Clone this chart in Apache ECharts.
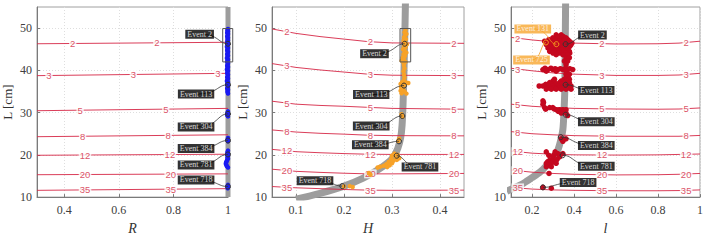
<!DOCTYPE html>
<html><head><meta charset="utf-8">
<script src="https://cdn.jsdelivr.net/npm/echarts@6/dist/echarts.min.js"></script>
<style>html,body{margin:0;padding:0;background:#fff}#c{width:706px;height:240px}</style>
</head><body><div id="c"></div>
<script>
// ---------------- data ----------------
const yTickVals = [10, 20, 30, 40, 50];
const levelNames = ['2', '3', '5', '8', '12', '20', '35'];

const xTicksR = [0.4, 0.6, 0.8, 1];
const xTicksH = [0.1, 0.2, 0.3, 0.4];
const xTicksL = [0.2, 0.4, 0.6, 0.8, 1];

// contour lines (L in cm) for each level, sampled at the listed x values
const contourR_x = [0.3, 1.0];
const contourR_L = [
  [46.3, 46.65], [38.75, 39.3], [30.45, 31.0], [24.3, 24.75],
  [19.9, 20.15], [15.3, 15.5], [11.6, 12.0]
];
const contourR_labelX = [[0.431, 0.739], [0.344, 0.653, 0.963], [0.458, 0.772], [0.467, 0.781], [0.476, 0.787], [0.476, 0.79], [0.476, 0.79]];

const contourH_x = [0.05, 0.1, 0.15, 0.2, 0.25, 0.3, 0.45];
const contourH_L = [
  [49.8, 48.75, 48.0, 47.4, 46.8, 46.5, 46.4],
  [41.6, 40.7, 40.1, 39.6, 39.1, 38.85, 38.75],
  [32.7, 32.0, 31.7, 31.5, 31.25, 31.0, 30.8],
  [25.9, 25.4, 25.1, 24.9, 24.65, 24.55, 24.5],
  [21.3, 20.75, 20.5, 20.3, 20.15, 20.1, 20.1],
  [16.6, 16.1, 15.85, 15.65, 15.5, 15.5, 15.6],
  [12.5, 12.2, 12.0, 11.8, 11.65, 11.6, 11.65]
];
const contourH_labelX = [0.081, 0.255, 0.429];

const contourL_x = [0.1, 0.2, 0.3, 0.4, 0.6, 0.8, 0.9, 1.0];
const contourL_L = [
  [47.8, 47.2, 46.75, 46.45, 46.25, 46.3, 46.45, 46.9],
  [40.5, 39.9, 39.4, 39.1, 38.8, 38.8, 38.9, 39.3],
  [32.0, 31.5, 31.2, 31.0, 30.85, 30.8, 30.85, 31.1],
  [25.5, 25.0, 24.75, 24.55, 24.4, 24.4, 24.4, 24.6],
  [20.9, 20.4, 20.15, 20.0, 19.95, 20.0, 20.1, 20.2],
  [16.4, 15.9, 15.6, 15.4, 15.25, 15.3, 15.4, 15.6],
  [12.3, 11.9, 11.7, 11.6, 11.5, 11.5, 11.55, 11.7]
];
const contourL_labelX = [0.132, 0.533, 0.934];

// grey reference curves
const curveR = [[1, 10], [1, 55]];
const curveH = [[0.10, 9.5], [0.15, 10.9], [0.2, 12.6], [0.24, 14.5], [0.27, 16.4], [0.29, 18.0], [0.303, 19.5], [0.312, 21.5], [0.318, 24], [0.321, 27], [0.323, 32], [0.325, 40], [0.327, 50], [0.328, 56]];
const curveL = [[0.08, 11.4], [0.12, 12.3], [0.16, 13.3], [0.2, 14.6], [0.24, 16.0], [0.27, 17.5], [0.3, 19.2], [0.322, 21], [0.337, 23.5], [0.347, 26], [0.352, 30], [0.356, 35], [0.358, 45], [0.36, 56]];

// measured points
const pointsR = [
  [1.0,49.8],[0.998,49.5],[1.0,49.2],[0.997,48.9],[1.0,48.6],[0.999,48.3],[0.997,48.0],[1.0,47.7],[0.998,47.4],[1.0,47.1],
  [0.997,46.8],[0.999,46.5],[1.0,46.2],[0.998,45.9],[0.996,45.6],[1.0,45.3],[0.998,45.0],[0.997,44.7],[1.0,44.4],[0.999,44.1],
  [0.997,43.8],[1.0,43.5],[0.998,43.2],[0.996,42.9],[1.0,42.6],[0.998,42.3],[0.997,42.0],[1.0,41.7],[0.999,41.4],[0.997,41.1],
  [1.0,40.8],[0.998,40.5],[0.996,40.2],[1.0,39.9],[0.998,39.6],[0.997,39.3],[1.0,39.0],[0.999,38.7],[0.997,38.4],[1.0,38.1],
  [0.998,37.8],[0.996,37.5],[1.0,37.2],[0.998,36.9],[0.997,36.6],[1.0,36.3],[0.999,36.0],[0.997,35.7],[1.0,35.4],[0.998,35.1],
  [0.999,34.8],[1.0,34.5],
  [1.0,30.3],[0.998,30.0],[1.0,29.7],[0.997,29.4],[1.0,29.1],
  [1.0,24.0],[0.998,23.6],[1.0,23.2],
  [1.0,21.0],[0.998,20.6],[1.0,20.3],[0.997,20.0],[1.0,19.7],[0.998,19.4],[1.0,19.1],[0.997,18.8],[0.995,18.5],[0.993,18.2],
  [0.992,17.9],[0.994,17.6],[0.996,17.3],[1.0,17.0],
  [1.0,12.9],[0.998,12.6],[1.0,12.3],[0.999,12.1]
];
const pointsH = [
  [0.328,49.5],[0.326,49.0],[0.330,48.6],[0.327,48.2],[0.325,47.8],[0.329,47.4],[0.324,47.0],[0.327,46.6],[0.331,46.2],[0.325,45.8],
  [0.328,45.4],[0.323,45.0],[0.326,44.6],[0.330,44.2],[0.324,43.8],[0.327,43.4],[0.322,43.0],[0.325,42.6],[0.320,42.3],[0.328,42.0],
  [0.324,41.8],[0.325,41.2],[0.326,40.5],[0.324,39.8],[0.325,39.0],[0.326,38.3],[0.325,37.6],
  [0.321,37.2],[0.330,37.1],[0.334,37.0],[0.318,36.8],[0.325,36.5],[0.319,36.0],[0.323,35.6],[0.318,35.2],[0.326,35.0],[0.320,34.6],[0.330,34.5],
  [0.320,29.6],[0.322,29.0],
  [0.315,23.8],[0.313,23.3],
  [0.305,20.3],[0.312,20.0],[0.300,19.8],[0.308,19.5],[0.315,19.2],[0.298,19.0],[0.303,18.6],[0.293,18.3],[0.300,18.0],[0.288,17.8],
  [0.295,17.5],[0.282,17.4],[0.275,17.2],[0.290,17.1],[0.270,17.0],[0.310,18.8],
  [0.252,15.7],[0.255,15.3],
  [0.200,12.5],[0.212,12.6],[0.218,12.4]
];
const pointsL = [
  [0.315,48.4],[0.339,48.4],[0.327,48.0],[0.350,48.0],
  [0.299,47.7],[0.323,47.7],[0.347,47.7],[0.362,47.7],
  [0.280,47.3],[0.310,47.3],[0.335,47.3],[0.355,47.3],[0.370,47.3],
  [0.260,46.9],[0.284,46.9],[0.307,46.9],[0.331,46.9],[0.354,46.9],[0.378,46.9],
  [0.270,46.5],[0.295,46.5],[0.320,46.5],[0.345,46.5],[0.370,46.5],[0.390,46.5],
  [0.268,46.1],[0.292,46.1],[0.315,46.1],[0.339,46.1],[0.362,46.1],[0.386,46.1],
  [0.285,45.7],[0.310,45.7],[0.335,45.7],[0.360,45.7],[0.380,45.7],
  [0.276,45.3],[0.299,45.3],[0.323,45.3],[0.347,45.3],[0.370,45.3],
  [0.290,44.9],[0.320,44.9],[0.345,44.9],[0.365,44.9],
  [0.284,44.5],[0.307,44.5],[0.331,44.5],[0.354,44.5],[0.378,44.5],
  [0.300,44.1],[0.330,44.1],[0.360,44.1],[0.380,44.1],
  [0.315,43.7],[0.347,43.7],[0.370,43.7],
  [0.362,43.0],[0.378,43.0],[0.354,42.2],[0.370,42.2],[0.362,41.4],
  [0.252,40.2],[0.276,40.2],[0.299,40.2],[0.323,40.2],[0.347,40.2],[0.370,40.2],[0.394,40.2],
  [0.262,40.5],[0.290,40.5],[0.310,40.4],[0.335,40.4],[0.360,40.5],[0.380,40.4],
  [0.268,39.8],[0.315,39.8],[0.362,39.8],
  [0.362,39.1],[0.378,39.1],[0.365,38.5],[0.372,38.5],
  [0.307,37.9],[0.354,37.9],[0.378,37.9],[0.300,37.5],[0.340,37.5],[0.365,37.5],
  [0.284,37.1],[0.307,37.1],[0.331,37.1],[0.354,37.1],[0.378,37.1],
  [0.265,36.7],[0.290,36.7],[0.315,36.7],[0.340,36.7],[0.365,36.7],
  [0.234,36.3],[0.252,36.3],[0.276,36.3],[0.299,36.3],[0.323,36.3],[0.347,36.3],[0.370,36.3],[0.386,36.3],
  [0.280,35.9],[0.305,35.9],[0.330,35.9],[0.350,35.9],[0.375,35.9],
  [0.268,35.55],[0.292,35.55],[0.315,35.55],[0.339,35.55],[0.362,35.55],[0.386,35.55],
  [0.252,32.8],[0.255,32.4],[0.252,32.0],
  [0.260,31.2],[0.284,31.2],[0.299,31.2],[0.265,30.8],[0.305,30.9],
  [0.315,30.7],[0.331,30.7],[0.347,30.7],[0.362,30.7],[0.325,30.3],[0.350,30.2],
  [0.339,29.9],[0.362,29.9],[0.370,29.3],
  [0.339,23.8],[0.362,23.8],[0.347,23.2],
  [0.268,20.7],[0.323,20.3],[0.347,20.3],[0.310,20.7],[0.335,20.0],[0.280,19.9],[0.305,20.0],
  [0.299,19.5],[0.331,19.5],[0.320,19.0],[0.284,18.7],[0.315,18.7],
  [0.275,18.4],[0.300,18.4],
  [0.268,18.0],[0.292,18.0],[0.315,18.0],[0.280,17.6],[0.268,17.2],[0.292,17.2],
  [0.281,15.6],
  [0.252,12.3],[0.292,12.1]
];

// highlighted events
const eventNames = ['Event 2', 'Event 113', 'Event 304', 'Event 384', 'Event 781', 'Event 718'];
const eventsR = [[1, 46.3], [1, 36.6], [1, 29.7], [1, 23.4], [1, 20.1], [1, 12.5]];
const eventsH = [[0.3265, 46.3], [0.325, 36.4], [0.3215, 29.2], [0.3146, 23.2], [0.3098, 19.8], [0.1965, 12.6]];
const eventsL = [[0.36, 46.2], [0.36, 36.6], [0.36, 29.5], [0.337, 24.2], [0.346, 19.9], [0.252, 12.3]];
const extraEventNames = ['Event 131', 'Event 725'];
const extraEventsL = [[0.316, 46.2], [0.266, 46.6]];

// ---------------- annotation layout (data coords of callout boxes) ----------------
const calloutR = [[0.896, 48.55], [0.883, 34.4], [0.883, 26.6], [0.883, 21.5], [0.883, 17.6], [0.883, 14.05]];
const calloutH = [[0.2635, 43.94], [0.2567, 34.26], [0.2567, 26.83], [0.2548, 22.37], [0.3583, 17.15], [0.1396, 13.87]];
const calloutL = [[0.4878, 48.37], [0.5062, 35.24], [0.5062, 27.86], [0.5062, 22.19], [0.5062, 17.31], [0.4195, 13.47]];
const extraCalloutL = [[0.2037, 49.8], [0.1975, 42.46]];
const zoomBoxR = [0.9806, 42.0, 1.0173, 49.9];
const zoomBoxH = [0.3167, 42.0, 0.3389, 49.9];

// ---------------- build ----------------
function interp(xs, ys, x) {
  for (let i = 0; i < xs.length - 1; i++) {
    if (x >= xs[i] && x <= xs[i + 1]) {
      const t = (x - xs[i]) / (xs[i + 1] - xs[i]);
      return ys[i] + t * (ys[i + 1] - ys[i]);
    }
  }
  return ys[ys.length - 1];
}

const SERIF = 'Liberation Serif, DejaVu Serif, serif';
const SANS = 'Liberation Sans, Arial, sans-serif';
const AXC = '#7a7a7a';
const panels = [
  { left: 37, width: 191, min: 0.3, max: 1, ticks: xTicksR, name: 'R', cx: contourR_x, cL: contourR_L,
    clx: contourR_labelX, curve: curveR, curveW: 5, smooth: false, pts: pointsR, ptColor: '#1a1af2', ptSize: 4.5,
    ev: eventsR, cal: calloutR, box: zoomBoxR },
  { left: 272, width: 192, min: 0.05, max: 0.45, ticks: xTicksH, name: 'H', cx: contourH_x, cL: contourH_L,
    clx: levelNames.map(() => contourH_labelX), curve: curveH, curveW: 7, smooth: true, pts: pointsH, ptColor: '#f7a228', ptSize: 4.5,
    ev: eventsH, cal: calloutH, box: zoomBoxH },
  { left: 511, width: 191, min: 0.1, max: 1, ticks: xTicksL, name: 'l', cx: contourL_x, cL: contourL_L,
    clx: levelNames.map(() => contourL_labelX), curve: curveL, curveW: 7, smooth: true, pts: pointsL, ptColor: '#c4081f', ptSize: 5.5,
    ev: eventsL, cal: calloutL, box: null }
];

const grid = [], xAxis = [], yAxis = [], series = [];

function connectorSeries(gi, rows, color) {
  return {
    type: 'custom', xAxisIndex: gi, yAxisIndex: gi, z: 5, silent: true, clip: false,
    data: rows,
    renderItem: (params, api) => {
      const a = api.coord([api.value(0), api.value(1)]);
      const b = api.coord([api.value(2), api.value(3)]);
      const dx = b[0] - a[0];
      return { type: 'bezierCurve',
        shape: { x1: a[0], y1: a[1], x2: b[0], y2: b[1], cpx1: a[0] + dx * 0.7, cpy1: a[1], cpx2: b[0] - dx * 0.35, cpy2: b[1] },
        style: { stroke: color, fill: null, lineWidth: 0.8 } };
    }
  };
}
function markerSeries(gi, pts, color) {
  return { type: 'scatter', xAxisIndex: gi, yAxisIndex: gi, z: 6, silent: true, data: pts, symbol: 'circle', symbolSize: 5,
    itemStyle: { color: 'rgba(0,0,0,0)', borderColor: color, borderWidth: 1, opacity: 1 } };
}
function calloutSeries(gi, pos, names, bg) {
  return { type: 'scatter', xAxisIndex: gi, yAxisIndex: gi, z: 8, silent: true,
    data: pos.map((p, i) => [p[0], p[1], names[i]]), symbolSize: 0, itemStyle: { color: 'rgba(0,0,0,0)' },
    label: { show: true, position: 'inside', formatter: d => d.value[2], color: '#fff', backgroundColor: bg,
      fontFamily: SERIF, fontSize: 8, lineHeight: 9, padding: [0, 2] } };
}

panels.forEach((p, gi) => {
  grid.push({ left: p.left, top: 7, width: p.width, height: 192, show: true, borderColor: '#a0a0a0', borderWidth: 1, backgroundColor: '#fff' });
  xAxis.push({ type: 'value', gridIndex: gi, min: p.min, max: p.max,
    name: p.name, nameLocation: 'middle', nameGap: 21,
    nameTextStyle: { fontFamily: SERIF, fontStyle: 'italic', fontSize: 14, color: '#333' },
    axisLine: { show: true, lineStyle: { color: AXC } },
    axisTick: { show: true, inside: true, length: 3, customValues: p.ticks, lineStyle: { color: AXC } },
    axisLabel: { customValues: p.ticks, margin: 7, fontFamily: SERIF, fontSize: 12, color: '#404040', formatter: v => String(+v.toFixed(2)) },
    splitLine: { show: true, lineStyle: { color: '#dedede', type: [1, 2], width: 1 } } });
  yAxis.push({ type: 'value', gridIndex: gi, min: 10, max: 55,
    name: 'L [cm]', nameLocation: 'middle', nameGap: 23,
    nameTextStyle: { fontFamily: SERIF, fontSize: 13, color: '#333' },
    axisLine: { show: true, lineStyle: { color: AXC } },
    axisTick: { show: true, inside: true, length: 3, customValues: yTickVals, lineStyle: { color: AXC } },
    axisLabel: { customValues: yTickVals, margin: 5, fontFamily: SERIF, fontSize: 12, color: '#404040' },
    splitLine: { show: true, lineStyle: { color: '#dedede', type: [1, 2], width: 1 } } });

  // grey curve
  series.push({ type: 'line', xAxisIndex: gi, yAxisIndex: gi, data: p.curve, smooth: p.smooth ? 0.3 : false, symbol: 'none', silent: true,
    lineStyle: { color: '#9d9d9d', width: p.curveW }, z: 1 });
  // contour lines
  p.cL.forEach((Ls) => {
    series.push({ type: 'line', xAxisIndex: gi, yAxisIndex: gi, data: p.cx.map((x, i) => [x, Ls[i]]), symbol: 'none', silent: true,
      smooth: false, lineStyle: { color: '#d62847', width: 1, opacity: 0.9 }, z: 2 });
  });
  // contour labels
  const lab = [];
  p.cL.forEach((Ls, k) => p.clx[k].forEach(x => lab.push([x, interp(p.cx, Ls, x), levelNames[k]])));
  series.push({ type: 'scatter', xAxisIndex: gi, yAxisIndex: gi, data: lab, symbolSize: 0, silent: true, z: 3,
    itemStyle: { color: 'rgba(0,0,0,0)' },
    label: { show: true, position: 'inside', formatter: d => d.value[2], color: '#d21f40', fontSize: 9.5, fontFamily: SANS,
      backgroundColor: '#fff', padding: [0, 1], lineHeight: 9 } });
  // data points
  series.push({ type: 'scatter', xAxisIndex: gi, yAxisIndex: gi, data: p.pts, symbolSize: p.ptSize, silent: true, z: 4,
    itemStyle: { color: p.ptColor, opacity: 1 } });
  // callouts
  series.push(connectorSeries(gi, p.ev.map((m, i) => [p.cal[i][0], p.cal[i][1], m[0], m[1]]), '#333'));
  series.push(markerSeries(gi, p.ev, '#333'));
  series.push(calloutSeries(gi, p.cal, eventNames, '#000'));
  if (p.box) {
    series.push({ type: 'custom', xAxisIndex: gi, yAxisIndex: gi, z: 6, silent: true, clip: false, data: [p.box],
      renderItem: (params, api) => {
        const a = api.coord([api.value(0), api.value(3)]);
        const b = api.coord([api.value(2), api.value(1)]);
        return { type: 'rect', shape: { x: a[0], y: a[1], width: b[0] - a[0], height: b[1] - a[1] },
          style: { stroke: '#555', fill: null, lineWidth: 1 } };
      } });
  }
});
// extra orange events in third panel
series.push(connectorSeries(2, extraEventsL.map((m, i) => [extraCalloutL[i][0], extraCalloutL[i][1], m[0], m[1]]), '#f39a1e'));
series.push(markerSeries(2, extraEventsL, '#f39a1e'));
series.push(calloutSeries(2, extraCalloutL, extraEventNames, '#f8a630'));

const chart = echarts.init(document.getElementById('c'), null, { renderer: 'svg' });
chart.setOption({ animation: false, backgroundColor: '#fff', grid, xAxis, yAxis, series });
</script></body></html>
